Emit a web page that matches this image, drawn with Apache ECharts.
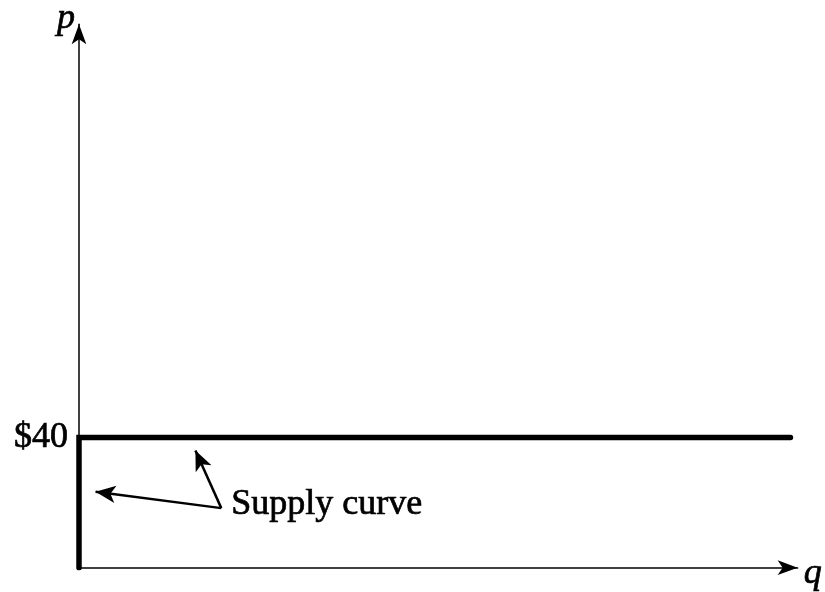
<!DOCTYPE html>
<html lang="en">
<head>
    <meta charset="UTF-8">
    <title>Supply curve</title>
    <script src="https://cdn.jsdelivr.net/npm/echarts@6/dist/echarts.min.js"></script>
    <style>
        html, body { margin: 0; padding: 0; background: #fff; }
        #main { width: 825px; height: 592px; }
    </style>
</head>
<body>
    <div id="main"></div>
    <script type="text/javascript">
        // supply curve: vertical at q=0 up to $40, then flat
        var supplyQ = [0, 0, 99];
        var supplyP = [0, 40, 40];
        var priceTicks = [40];
        var xMax = 100;
        var yMax = 167;

        // annotation: label point and arrow tips (data coords)
        var noteText = 'Supply curve';
        var notePoint = [19.8, 18.3];
        var arrowTips = [[2.3, 23.3], [16.2, 36]];

        var supplyData = supplyQ.map(function (q, i) { return [q, supplyP[i]]; });

        var myChart = echarts.init(document.getElementById('main'));
        var font = '"Liberation Serif", "DejaVu Serif", serif';
        // a thin outline makes the serif text as heavy as the original
        var heavy = { textBorderColor: '#000', textBorderWidth: 0.7 };

        var option = {
            animation: false,
            grid: { left: 79, right: 19, top: 22, bottom: 12 },
            xAxis: {
                type: 'value',
                min: 0,
                max: xMax,
                axisLine: {
                    show: true,
                    lineStyle: { color: '#000', width: 1.5 },
                    symbol: ['none', 'arrow'],
                    symbolSize: [11, 20]
                },
                axisTick: { show: false },
                axisLabel: { show: false },
                splitLine: { show: false },
                name: 'q',
                nameLocation: 'end',
                nameGap: 6,
                nameTextStyle: Object.assign({ fontFamily: font, fontStyle: 'italic', fontSize: 36, color: '#000', verticalAlign: 'top', padding: [-12, 0, 0, 0] }, heavy)
            },
            yAxis: {
                type: 'value',
                min: 0,
                max: yMax,
                interval: 40,
                axisLine: {
                    show: true,
                    lineStyle: { color: '#000', width: 1.5 },
                    symbol: ['none', 'arrow'],
                    symbolSize: [11, 20]
                },
                axisTick: { show: false },
                axisLabel: Object.assign({
                    margin: 11,
                    fontFamily: font,
                    fontSize: 36,
                    color: '#000',
                    formatter: function (v) {
                        return priceTicks.indexOf(v) >= 0 ? '$' + v : '';
                    }
                }, heavy),
                splitLine: { show: false },
                name: 'p',
                nameLocation: 'end',
                nameGap: 0,
                nameTextStyle: Object.assign({ fontFamily: font, fontStyle: 'italic', fontSize: 36, color: '#000', align: 'right', verticalAlign: 'bottom', padding: [0, 4, -12, 0] }, heavy)
            },
            series: [{
                name: 'Supply',
                type: 'line',
                data: supplyData,
                symbol: 'none',
                lineStyle: { color: '#000', width: 5.5, cap: 'round', join: 'miter' },
                markLine: {
                    silent: true,
                    symbol: ['none', 'arrow'],
                    symbolSize: [13, 20],
                    lineStyle: { color: '#000', width: 2.5, type: 'solid' },
                    label: { show: false },
                    data: arrowTips.map(function (t) {
                        return [{ coord: notePoint }, { coord: t }];
                    })
                },
                markPoint: {
                    silent: true,
                    symbol: 'circle',
                    symbolSize: 0,
                    data: [{ coord: notePoint, value: noteText }],
                    label: Object.assign({
                        show: true,
                        position: 'right',
                        distance: 10,
                        offset: [0, -4],
                        fontFamily: font,
                        fontSize: 36,
                        color: '#000',
                        formatter: noteText
                    }, heavy)
                }
            }]
        };
        myChart.setOption(option);
    </script>
</body>
</html>
